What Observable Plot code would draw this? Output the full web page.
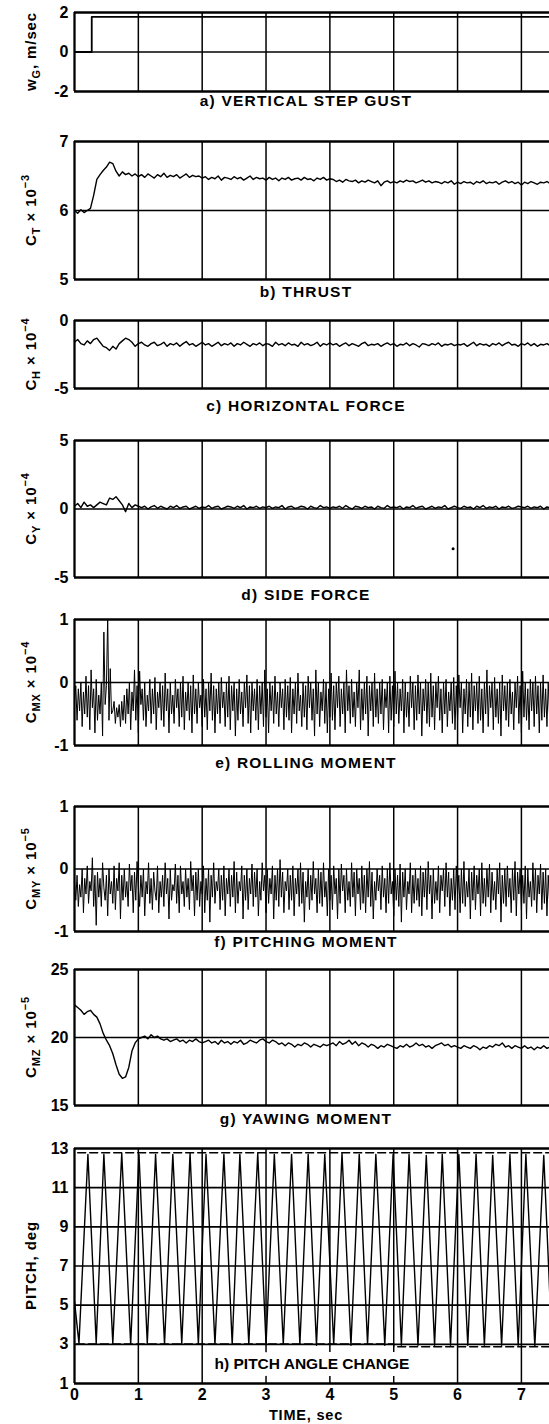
<!DOCTYPE html>
<html><head><meta charset="utf-8">
<script src="https://cdn.jsdelivr.net/npm/d3@7"></script>
<script src="https://cdn.jsdelivr.net/npm/@observablehq/plot@0.6"></script>
<style>
body{margin:0;background:#fff;}
#root{position:relative;width:549px;height:1424px;overflow:hidden;font-family:"Liberation Sans",Arial,Helvetica,sans-serif;color:#000;}
.cap{position:absolute;left:66px;width:480px;text-align:center;font-weight:bold;font-size:15.5px;letter-spacing:1.2px;line-height:18px;white-space:nowrap;}
</style></head><body><div id="root"></div>
<script>
// ---------- shared axis data ----------
const tMax = 7.44;
const timeTicks = [0,1,2,3,4,5,6,7];
const gridTimes = [1,2,3,4,5,6,7];

// ---------- a) vertical step gust ----------
const gustT = [0, 0.27, 0.27, 7.44];
const gustV = [0, 0, 1.78, 1.78];
const gustTicks = [-2, 0, 2];
const gustGrid = [0];

// ---------- b) thrust (x 10^-3), sampled every 0.05 s ----------
const thrustDt = 0.05;
const thrustV = [
6.00,5.96,6.01,5.97,6.00,6.03,6.22,6.45,6.52,6.58,6.63,6.70,6.68,6.57,6.50,6.56,6.52,6.54,6.50,6.53,6.49,
6.52,6.48,6.53,6.50,6.47,6.52,6.49,6.54,6.48,6.51,6.49,6.52,6.47,6.50,6.53,6.48,6.51,6.49,6.50,6.47,
6.49,6.45,6.48,6.46,6.50,6.44,6.48,6.47,6.45,6.49,6.46,6.48,6.44,6.47,6.50,6.45,6.48,6.46,6.47,6.44,
6.48,6.45,6.47,6.43,6.47,6.45,6.48,6.44,6.46,6.47,6.44,6.48,6.45,6.46,6.43,6.47,6.45,6.48,6.44,6.46,
6.45,6.42,6.44,6.41,6.45,6.43,6.42,6.44,6.40,6.43,6.41,6.44,6.42,6.40,6.43,6.36,6.41,6.43,6.40,6.42,
6.40,6.43,6.41,6.44,6.42,6.43,6.40,6.42,6.44,6.41,6.43,6.40,6.42,6.41,6.39,6.42,6.40,6.43,6.38,6.41,
6.39,6.42,6.40,6.41,6.38,6.42,6.40,6.43,6.39,6.41,6.40,6.42,6.38,6.41,6.43,6.40,6.42,6.39,6.41,6.37,
6.41,6.39,6.42,6.40,6.38,6.41,6.40,6.42,6.39];
const thrustTicks = [5, 6, 7];
const thrustGrid = [6];

// ---------- c) horizontal force (x 10^-4) ----------
const hforceDt = 0.05;
const hforceV = [
-1.6,-1.4,-1.7,-1.8,-1.5,-1.7,-1.4,-1.3,-1.6,-1.9,-2.0,-2.2,-1.9,-2.1,-1.7,-1.5,-1.3,-1.4,-1.6,-1.9,-1.7,
-1.6,-1.8,-1.9,-1.7,-1.6,-1.85,-1.75,-1.6,-1.9,-1.7,-1.8,-1.65,-1.9,-1.7,-1.55,-1.8,-1.7,-1.9,-1.75,-1.6,
-1.8,-1.7,-1.9,-1.75,-1.6,-1.85,-1.7,-1.8,-1.65,-1.9,-1.7,-1.8,-1.6,-1.75,-1.9,-1.7,-1.8,-1.65,-1.85,-1.7,
-1.75,-1.9,-1.6,-1.8,-1.7,-1.85,-1.65,-1.8,-1.75,-1.9,-1.6,-1.8,-1.7,-1.85,-1.75,-1.6,-1.9,-1.7,-1.8,-1.65,
-1.8,-1.7,-1.9,-1.75,-1.65,-1.85,-1.7,-1.8,-1.9,-1.7,-1.6,-1.85,-1.75,-1.8,-1.7,-1.9,-1.75,-1.65,-1.8,-1.7,
-1.9,-1.75,-1.8,-1.65,-1.85,-1.7,-1.8,-1.95,-1.7,-1.75,-1.85,-1.7,-1.8,-1.65,-1.9,-1.75,-1.8,-1.7,-1.85,-1.75,
-1.8,-1.7,-1.9,-1.75,-1.6,-1.85,-1.7,-1.8,-1.75,-1.9,-1.7,-1.8,-1.65,-1.85,-1.7,-1.6,-1.8,-1.75,-1.9,-1.7,
-1.8,-1.65,-1.85,-1.7,-1.9,-1.75,-1.8,-1.7,-1.85];
const hforceTicks = [-5, 0];
const hforceGrid = [];

// ---------- d) side force (x 10^-4) ----------
const sideDt = 0.05;
const sideV = [
0.2,0.4,0.1,0.5,0.2,0.3,0.1,0.3,0.5,0.4,0.3,0.8,0.7,0.9,0.6,0.3,-0.2,0.4,0.1,0.3,0.2,
0.1,0.2,0.0,0.15,0.25,0.05,0.2,0.1,0.0,0.2,0.1,0.25,0.05,0.15,0.2,0.0,0.1,0.2,0.05,0.15,
0.1,0.25,0.05,0.15,0.2,0.0,0.1,0.2,0.15,0.05,0.2,0.1,0.25,0.0,0.15,0.1,0.2,0.05,0.15,0.1,
0.2,0.05,0.15,0.1,0.25,0.0,0.15,0.2,0.05,0.1,0.2,0.15,0.0,0.2,0.1,0.05,0.25,0.1,0.15,0.05,
0.15,0.1,0.2,0.05,0.25,0.1,0.0,0.2,0.15,0.05,0.2,0.1,0.15,0.0,0.2,0.1,0.05,0.25,0.1,0.15,
0.1,0.2,0.0,0.15,0.1,0.25,0.05,0.15,0.2,0.0,0.1,0.2,0.05,0.15,0.1,0.25,0.0,0.1,0.2,0.1,
0.05,0.2,0.1,0.15,0.0,0.2,0.1,0.25,0.05,0.15,0.1,0.2,0.0,0.15,0.1,0.2,0.05,0.1,0.2,0.15,
0.1,0.2,0.05,0.15,0.1,0.2,0.0,0.15,0.1];
const sideDotT = [5.93];
const sideDotV = [-2.9];
const sideTicks = [-5, 0, 5];
const sideGrid = [0];

// ---------- e) rolling moment (x 10^-4), every 0.02 s ----------
const rollDt = 0.02;
const rollV = [
-0.3,-0.05,-0.6,-0.1,-0.45,0.0,-0.7,-0.15,-0.5,0.1,
-0.55,-0.05,-0.75,0.2,-0.4,-0.1,-0.8,0.05,-0.6,-0.2,
-0.5,0.0,-0.85,0.8,-0.35,-0.05,1.05,-0.6,0.22,-0.5,
-0.45,-0.3,-0.65,-0.4,-0.55,-0.35,-0.7,-0.3,-0.6,-0.2,
-0.65,-0.1,-0.5,0.0,-0.75,-0.15,-0.45,0.2,-0.6,-0.05,
-0.8,0.18,-0.35,-0.1,-0.6,0.0,-0.7,-0.2,-0.45,0.05,
-0.65,-0.1,-0.5,0.08,-0.75,-0.15,-0.4,0.0,-0.6,-0.05,
-0.7,0.15,-0.45,-0.1,-0.8,0.0,-0.5,-0.2,-0.65,0.05,
-0.4,-0.1,-0.7,0.0,-0.55,0.1,-0.75,-0.15,-0.45,0.0,
-0.6,-0.05,-0.8,0.12,-0.5,-0.1,-0.65,0.0,-0.4,-0.2,
-0.7,0.05,-0.55,-0.1,-0.75,0.0,-0.45,0.15,-0.6,-0.05,
-0.8,-0.1,-0.5,0.0,-0.65,0.08,-0.4,-0.15,-0.7,0.0,
-0.55,0.1,-0.75,-0.05,-0.45,0.0,-0.85,-0.1,-0.6,0.05,
-0.5,-0.15,-0.7,0.0,-0.4,0.12,-0.65,-0.05,-0.8,0.0,
-0.45,-0.1,-0.6,0.05,-0.75,-0.05,-0.5,0.0,-0.7,0.2,
-0.55,-0.1,-0.8,0.0,-0.45,-0.05,-0.65,0.1,-0.5,-0.15,
-0.7,0.0,-0.4,-0.1,-0.75,0.05,-0.55,-0.05,-0.6,0.08,
-0.8,-0.1,-0.5,0.0,-0.65,0.15,-0.45,-0.2,-0.7,0.0,
-0.55,-0.05,-0.75,0.1,-0.4,0.0,-0.6,-0.1,-0.85,0.2,
-0.5,0.0,-0.7,-0.15,-0.45,0.05,-0.65,0.0,-0.8,-0.1,
-0.55,0.15,-0.6,-0.05,-0.75,0.0,-0.4,0.1,-0.7,-0.1,
-0.5,0.0,-0.8,0.2,-0.45,-0.05,-0.65,0.05,-0.55,-0.15,
-0.7,0.0,-0.4,0.2,-0.75,-0.1,-0.6,0.0,-0.5,0.1,
-0.85,-0.05,-0.45,0.0,-0.7,0.15,-0.55,-0.1,-0.65,0.0,
-0.5,0.05,-0.75,-0.1,-0.4,0.0,-0.8,0.1,-0.6,-0.05,
-0.7,0.18,-0.5,0.0,-0.65,-0.1,-0.45,0.05,-0.8,0.0,
-0.55,-0.15,-0.7,0.1,-0.4,0.0,-0.75,-0.05,-0.6,0.12,
-0.5,0.0,-0.85,-0.1,-0.45,0.05,-0.65,0.0,-0.7,0.15,
-0.55,-0.05,-0.75,0.0,-0.4,0.1,-0.6,-0.1,-0.8,0.0,
-0.5,0.05,-0.7,-0.15,-0.45,0.0,-0.65,0.08,-0.75,-0.05,
-0.6,0.12,-0.4,0.0,-0.8,-0.1,-0.5,0.05,-0.7,0.0,
-0.55,0.15,-0.75,-0.05,-0.45,0.0,-0.65,0.1,-0.6,-0.1,
-0.8,0.0,-0.5,0.2,-0.7,-0.05,-0.4,0.0,-0.75,0.08,
-0.55,-0.1,-0.65,0.0,-0.85,0.12,-0.45,-0.05,-0.6,0.0,
-0.7,0.05,-0.5,-0.15,-0.75,0.0,-0.4,0.1,-0.65,-0.05,
-0.8,0.18,-0.55,0.0,-0.6,-0.1,-0.75,0.05,-0.45,0.0,
-0.7,0.1,-0.5,-0.05,-0.8,0.0,-0.6,0.12,-0.55,-0.1,
-0.7,0.0,-0.5];
const rollTicks = [-1, 0, 1];
const rollGrid = [0];

// ---------- f) pitching moment (x 10^-5), every 0.02 s ----------
const pmomDt = 0.02;
const pmomV = [
-0.2,-0.5,-0.1,-0.6,-0.25,-0.45,0.0,-0.7,-0.15,-0.4,
0.05,-0.55,-0.2,-0.35,0.18,-0.6,-0.1,-0.9,-0.05,-0.45,
-0.15,-0.6,0.1,-0.3,-0.5,-0.1,-0.75,0.0,-0.4,-0.2,
-0.55,0.05,-0.65,-0.15,-0.35,0.1,-0.8,-0.1,-0.5,0.0,
-0.45,-0.2,-0.6,0.08,-0.35,-0.1,-0.7,-0.05,-0.5,0.12,
-0.3,-0.6,-0.1,-0.45,0.0,-0.75,-0.2,-0.4,0.1,-0.55,
-0.15,-0.65,-0.05,-0.35,-0.5,0.05,-0.7,-0.2,-0.45,-0.1,
-0.6,0.1,-0.4,-0.15,-0.8,0.0,-0.5,-0.25,-0.35,0.08,
-0.55,-0.1,-0.7,0.05,-0.4,-0.2,-0.6,0.0,-0.45,-0.15,
-0.65,0.12,-0.35,-0.1,-0.75,-0.05,-0.5,0.0,-0.6,-0.2,
-0.4,0.05,-0.7,-0.15,-0.5,0.0,-0.85,-0.1,-0.45,0.1,
-0.55,-0.2,-0.35,0.0,-0.65,-0.1,-0.5,0.05,-0.75,-0.15,
-0.4,0.0,-0.6,-0.1,-0.45,0.12,-0.7,-0.05,-0.55,-0.2,
-0.35,0.05,-0.8,-0.1,-0.5,0.0,-0.65,-0.15,-0.4,0.08,
-0.6,-0.05,-0.45,0.0,-0.75,-0.2,-0.5,0.1,-0.35,-0.1,
-0.7,0.0,-0.55,-0.15,-0.4,0.05,-0.8,-0.1,-0.5,0.0,
-0.6,0.15,-0.45,-0.05,-0.7,-0.2,-0.35,0.0,-0.65,-0.1,
-0.5,0.05,-0.75,-0.15,-0.4,0.0,-0.6,0.1,-0.55,-0.05,
-0.85,-0.2,-0.45,0.0,-0.65,-0.1,-0.5,0.12,-0.4,-0.15,
-0.7,0.0,-0.55,-0.05,-0.6,0.1,-0.45,-0.2,-0.75,0.0,
-0.5,-0.1,-0.65,0.05,-0.4,-0.15,-0.8,0.0,-0.55,0.08,
-0.35,-0.1,-0.7,0.0,-0.5,-0.2,-0.6,0.1,-0.45,-0.05,
-0.75,0.0,-0.4,-0.15,-0.65,0.05,-0.55,-0.1,-0.7,0.0,
-0.45,0.12,-0.6,-0.05,-0.8,-0.2,-0.5,0.0,-0.35,-0.1,
-0.65,0.05,-0.45,-0.15,-0.7,0.0,-0.55,0.1,-0.4,-0.2,
-0.75,0.0,-0.5,-0.1,-0.6,0.08,-0.85,-0.05,-0.45,0.0,
-0.65,-0.2,-0.4,0.1,-0.7,-0.1,-0.55,0.0,-0.5,-0.15,
-0.6,0.05,-0.75,-0.05,-0.45,0.0,-0.65,0.12,-0.4,-0.1,
-0.8,0.0,-0.55,-0.2,-0.5,0.05,-0.7,-0.1,-0.35,0.0,
-0.6,0.1,-0.45,-0.05,-0.75,-0.15,-0.5,0.0,-0.65,0.05,
-0.4,-0.1,-0.7,0.0,-0.55,0.12,-0.6,-0.2,-0.45,0.0,
-0.8,-0.05,-0.5,0.05,-0.65,-0.1,-0.4,0.0,-0.75,0.1,
-0.55,-0.15,-0.6,0.0,-0.45,0.08,-0.7,-0.05,-0.5,-0.2,
-0.65,0.0,-0.4,0.1,-0.85,-0.1,-0.55,0.0,-0.6,0.05,
-0.45,-0.15,-0.7,0.0,-0.5,0.12,-0.75,-0.05,-0.4,0.0,
-0.65,-0.1,-0.55,0.05,-0.8,0.0,-0.45,-0.2,-0.6,0.1,
-0.5,0.0,-0.7,-0.1,-0.4,0.08,-0.65,-0.05,-0.55,0.0,
-0.75,-0.1,-0.5];
const pmomTicks = [-1, 0, 1];
const pmomGrid = [0];

// ---------- g) yawing moment (x 10^-5) ----------
const yawDt = 0.05;
const yawV = [
22.4,22.2,22.0,21.7,21.9,22.0,21.7,21.5,21.0,20.3,19.8,19.4,18.8,18.0,17.3,17.0,17.1,17.8,19.0,19.6,19.9,
20.0,20.1,19.9,20.2,20.0,20.1,19.9,19.8,19.9,19.7,19.8,19.9,19.7,19.8,19.6,19.8,19.7,19.9,19.7,19.6,
19.7,19.8,19.6,19.7,19.5,19.8,19.6,19.7,19.5,19.7,19.6,19.8,19.5,19.6,19.8,19.7,19.6,19.8,19.9,19.7,
19.6,19.8,19.7,19.5,19.6,19.4,19.6,19.5,19.3,19.5,19.4,19.6,19.5,19.3,19.5,19.4,19.3,19.5,19.4,19.5,
19.6,19.4,19.7,19.5,19.6,19.8,19.5,19.7,19.4,19.6,19.5,19.3,19.5,19.4,19.2,19.4,19.3,19.5,19.4,19.3,
19.2,19.4,19.3,19.5,19.3,19.4,19.6,19.4,19.5,19.3,19.4,19.2,19.4,19.5,19.6,19.4,19.5,19.3,19.4,19.3,
19.2,19.4,19.3,19.2,19.4,19.3,19.1,19.3,19.2,19.4,19.3,19.5,19.4,19.6,19.3,19.4,19.2,19.4,19.3,19.2,
19.4,19.2,19.3,19.1,19.3,19.2,19.4,19.2,19.3];
const yawTicks = [15, 20, 25];
const yawGrid = [20];

// ---------- h) pitch angle change (deg): turning points ----------
const pitchT = [0,0.07,0.21,0.34,0.46,0.60,0.74,0.88,1.01,1.14,1.27,1.41,1.54,1.68,1.81,1.94,2.06,2.20,2.34,2.47,2.59,2.73,2.87,3.00,3.13,3.27,3.40,3.53,3.66,3.79,3.92,4.06,4.19,4.33,4.46,4.59,4.72,4.86,4.99,5.12,5.24,5.38,5.51,5.64,5.76,5.89,6.02,6.16,6.29,6.42,6.55,6.69,6.82,6.95,7.07,7.21,7.35,7.48];
const pitchV = [5.2,3.05,12.7,3.05,12.7,3.05,12.75,3.0,12.7,3.05,12.7,3.0,12.7,3.05,12.75,3.0,12.7,3.0,12.7,3.0,12.7,3.0,12.75,3.0,12.7,3.0,12.7,3.0,12.7,2.95,12.7,3.0,12.75,2.95,12.7,3.0,12.7,2.95,12.7,2.95,12.7,2.95,12.65,2.95,12.7,2.95,12.7,2.95,12.7,2.95,12.65,2.95,12.7,2.95,12.7,2.9,12.65,2.9];
const pitchTopT = [0.05, 7.44];
const pitchTopV = [12.78, 12.78];
const pitchLowT = [0.03, 5.0, 5.0, 7.44];
const pitchLowV = [3.02, 3.02, 2.88, 2.88];
const pitchTicks = [1, 3, 5, 7, 9, 11, 13];
const pitchGrid = [3, 5, 7, 9, 11];

// ---------- helpers ----------
const FONT = '"Liberation Sans", Arial, Helvetica, sans-serif';
const sampled = (vals, dt) => vals.map((v, i) => ({t: i * dt, v}));
const paired = (ts, vs) => ts.map((t, i) => ({t, v: vs[i]}));
const root = document.getElementById("root");

function addLabel(svg, cx, cy, parts) {
  const t = d3.select(svg).append("text")
    .attr("transform", `translate(${cx},${cy}) rotate(-90)`)
    .attr("text-anchor", "middle")
    .attr("fill", "#000")
    .style("font-family", FONT).style("font-weight", "bold")
    .style("font-size", "15px").style("letter-spacing", "0.9px");
  let shift = 0;
  for (const [s, kind] of parts) {
    const target = kind === "sub" ? 4 : kind === "sup" ? -7 : 0;
    const sp = t.append("tspan").text(s).attr("dy", target - shift);
    if (kind) sp.style("font-size", "11px");
    shift = target;
  }
}

function panel(o) {
  const mt = 12, mb = o.xAxis ? 26 : 12;
  const fh = o.bottom - o.top;
  const marks = [
    Plot.ruleX(gridTimes, {stroke: "#000", strokeWidth: 1.5}),
    Plot.ruleY(o.grid, {stroke: "#000", strokeWidth: 1.7}),
    ...o.lines,
    Plot.ruleX([0], {stroke: "#000", strokeWidth: 2.3}),
    Plot.ruleY(o.domain, {stroke: "#000", strokeWidth: 2.3}),
    ...(o.extra || [])
  ];
  const svg = Plot.plot({
    width: 549, height: fh + mt + mb,
    marginLeft: 74, marginRight: 0, marginTop: mt, marginBottom: mb,
    x: {domain: [0, tMax], axis: o.xAxis ? "bottom" : null, ticks: timeTicks,
        tickSize: 0, tickPadding: 5, tickFormat: d => String(d), label: null},
    y: {domain: o.domain, ticks: o.ticks, tickSize: 0, tickPadding: 6,
        tickFormat: d => String(d), label: null},
    style: {fontFamily: FONT, fontSize: "16px", fontWeight: "bold", color: "#000",
            background: "transparent", overflow: "visible"},
    marks
  });
  svg.style.position = "absolute";
  svg.style.left = "0px";
  svg.style.top = (o.top - mt) + "px";
  addLabel(svg, 36, mt + fh / 2, o.label);
  root.appendChild(svg);
  if (o.caption) {
    const c = document.createElement("div");
    c.className = "cap";
    c.textContent = o.caption;
    c.style.top = (o.captionY - 9) + "px";
    root.appendChild(c);
  }
}

const lineOpts = {x: "t", y: "v", stroke: "#000", strokeWidth: 1.4, clip: true};

panel({top: 12, bottom: 91, domain: [-2, 2], ticks: gustTicks, grid: gustGrid,
  lines: [Plot.line(paired(gustT, gustV), {...lineOpts, strokeWidth: 1.8})],
  label: [["w"], ["G", "sub"], [", m/sec"]],
  caption: "a) VERTICAL STEP GUST", captionY: 101});

panel({top: 141, bottom: 279, domain: [5, 7], ticks: thrustTicks, grid: thrustGrid,
  lines: [Plot.line(sampled(thrustV, thrustDt), lineOpts)],
  label: [["C"], ["T", "sub"], [" × 10"], ["−3", "sup"]],
  caption: "b) THRUST", captionY: 292});

panel({top: 320, bottom: 388, domain: [-5, 0], ticks: hforceTicks, grid: hforceGrid,
  lines: [Plot.line(sampled(hforceV, hforceDt), lineOpts)],
  label: [["C"], ["H", "sub"], [" × 10"], ["−4", "sup"]],
  caption: "c) HORIZONTAL FORCE", captionY: 406});

panel({top: 440, bottom: 577, domain: [-5, 5], ticks: sideTicks, grid: sideGrid,
  lines: [Plot.line(sampled(sideV, sideDt), lineOpts)],
  extra: [Plot.dot(paired(sideDotT, sideDotV), {x: "t", y: "v", r: 1.5, fill: "#000"})],
  label: [["C"], ["Y", "sub"], [" × 10"], ["−4", "sup"]],
  caption: "d) SIDE FORCE", captionY: 595});

panel({top: 619, bottom: 745, domain: [-1, 1], ticks: rollTicks, grid: rollGrid,
  lines: [Plot.line(sampled(rollV, rollDt), {...lineOpts, strokeWidth: 1.0})],
  label: [["C"], ["MX", "sub"], [" × 10"], ["−4", "sup"]],
  caption: "e) ROLLING MOMENT", captionY: 763});

panel({top: 806, bottom: 931, domain: [-1, 1], ticks: pmomTicks, grid: pmomGrid,
  lines: [Plot.line(sampled(pmomV, pmomDt), {...lineOpts, strokeWidth: 1.0})],
  label: [["C"], ["MY", "sub"], [" × 10"], ["−5", "sup"]],
  caption: "f) PITCHING MOMENT", captionY: 942});

panel({top: 969, bottom: 1105, domain: [15, 25], ticks: yawTicks, grid: yawGrid,
  lines: [Plot.line(sampled(yawV, yawDt), lineOpts)],
  label: [["C"], ["MZ", "sub"], [" × 10"], ["−5", "sup"]],
  caption: "g) YAWING MOMENT", captionY: 1119});

panel({top: 1148, bottom: 1383, domain: [1, 13], ticks: pitchTicks, grid: pitchGrid, xAxis: true,
  lines: [
    Plot.line(paired(pitchT, pitchV), lineOpts),
    Plot.line(paired(pitchTopT, pitchTopV), {...lineOpts, strokeDasharray: "8,4"}),
    Plot.line(paired(pitchLowT, pitchLowV), {...lineOpts, strokeDasharray: "8,4"})
  ],
  extra: [Plot.text(["h) PITCH ANGLE CHANGE"], {frameAnchor: "bottom", dy: -15, text: d => d,
    fill: "#000", stroke: "#fff", strokeWidth: 14, fontSize: 15.5, fontWeight: "bold",
    fontFamily: FONT, letterSpacing: "1.6px"})],
  label: [["PITCH, deg"]]});

const timeLabel = document.createElement("div");
timeLabel.className = "cap";
timeLabel.style.letterSpacing = "0.8px";
timeLabel.style.fontSize = "14.5px";
timeLabel.style.lineHeight = "16px";
timeLabel.textContent = "TIME, sec";
timeLabel.style.top = (1415 - 8) + "px";
root.appendChild(timeLabel);
</script></body></html>
